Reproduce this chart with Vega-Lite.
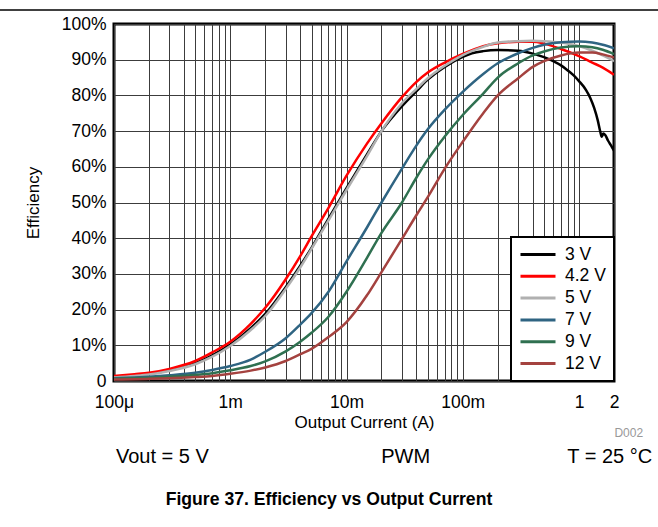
{
  "$schema": "https://vega.github.io/schema/vega-lite/v6.json",
  "width": 500,
  "height": 357,
  "autosize": "none",
  "padding": {"left": 114, "top": 24, "right": 44, "bottom": 146},
  "background": "white",
  "config": {
    "font": "Liberation Sans",
    "view": {"stroke": "black", "strokeWidth": 3},
    "axis": {
      "grid": true,
      "gridColor": "#3c3c3c",
      "gridWidth": 1,
      "gridOpacity": 1,
      "ticks": false,
      "domain": false,
      "labelFont": "Liberation Sans",
      "labelFontSize": 17.5,
      "labelColor": "black",
      "labelOverlap": false,
      "titleFont": "Liberation Sans",
      "titleFontSize": 17,
      "titleFontWeight": "normal",
      "titleColor": "black"
    },
    "legend": {
      "orient": "bottom-right",
      "offset": 0,
      "strokeColor": "black",
      "strokeWidth": 2,
      "fillColor": "white",
      "padding": 8,
      "clipHeight": 19,
      "symbolType": "stroke",
      "symbolSize": 1225,
      "symbolStrokeWidth": 3,
      "labelFont": "Liberation Sans",
      "labelFontSize": 17.5,
      "labelColor": "black",
      "labelOffset": 8,
      "rowPadding": 2.8
    }
  },
  "title": {
    "text": "Figure 37. Efficiency vs Output Current",
    "orient": "bottom",
    "anchor": "middle",
    "frame": "bounds",
    "font": "Liberation Sans",
    "fontSize": 17.6,
    "fontWeight": "bold",
    "color": "black",
    "offset": 24
  },
  "layer": [
    {
      "data": {
        "values": [
          {"s":"3 V","i":0.0001,"e":1.2},{"s":"3 V","i":0.00015,"e":1.6},{"s":"3 V","i":0.0002,"e":2.0},{"s":"3 V","i":0.0003,"e":3.0},{"s":"3 V","i":0.0005,"e":5.0},{"s":"3 V","i":0.0007,"e":7.2},{"s":"3 V","i":0.001,"e":10.2},{"s":"3 V","i":0.0015,"e":14.8},{"s":"3 V","i":0.002,"e":18.8},{"s":"3 V","i":0.003,"e":26.3},{"s":"3 V","i":0.004,"e":32.3},{"s":"3 V","i":0.005,"e":37.3},{"s":"3 V","i":0.007,"e":45.5},{"s":"3 V","i":0.01,"e":54},{"s":"3 V","i":0.015,"e":63.5},{"s":"3 V","i":0.02,"e":70},{"s":"3 V","i":0.03,"e":77},{"s":"3 V","i":0.04,"e":81.2},{"s":"3 V","i":0.05,"e":84.4},{"s":"3 V","i":0.07,"e":88},{"s":"3 V","i":0.1,"e":90.8},{"s":"3 V","i":0.12,"e":91.8},{"s":"3 V","i":0.15,"e":92.4},{"s":"3 V","i":0.2,"e":92.7},{"s":"3 V","i":0.3,"e":92.5},{"s":"3 V","i":0.4,"e":91.7},{"s":"3 V","i":0.5,"e":90.7},{"s":"3 V","i":0.6,"e":89.6},{"s":"3 V","i":0.7,"e":88.4},{"s":"3 V","i":0.8,"e":87},{"s":"3 V","i":0.9,"e":85.6},{"s":"3 V","i":1,"e":84},{"s":"3 V","i":1.15,"e":81.5},{"s":"3 V","i":1.25,"e":79.3},{"s":"3 V","i":1.35,"e":76.5},{"s":"3 V","i":1.45,"e":73},{"s":"3 V","i":1.52,"e":70},{"s":"3 V","i":1.57,"e":68.4},{"s":"3 V","i":1.62,"e":69.3},{"s":"3 V","i":1.68,"e":68.9},{"s":"3 V","i":1.78,"e":67.3},{"s":"3 V","i":1.9,"e":65.8},{"s":"3 V","i":2,"e":64.5},
          {"s":"4.2 V","i":0.0001,"e":1.4},{"s":"4.2 V","i":0.00015,"e":1.9},{"s":"4.2 V","i":0.0002,"e":2.3},{"s":"4.2 V","i":0.0003,"e":3.4},{"s":"4.2 V","i":0.0005,"e":5.6},{"s":"4.2 V","i":0.0007,"e":8.0},{"s":"4.2 V","i":0.001,"e":11.0},{"s":"4.2 V","i":0.0015,"e":16.0},{"s":"4.2 V","i":0.002,"e":20.5},{"s":"4.2 V","i":0.003,"e":28.5},{"s":"4.2 V","i":0.004,"e":35},{"s":"4.2 V","i":0.005,"e":40.5},{"s":"4.2 V","i":0.007,"e":48.5},{"s":"4.2 V","i":0.01,"e":57.5},{"s":"4.2 V","i":0.015,"e":66.5},{"s":"4.2 V","i":0.02,"e":72.2},{"s":"4.2 V","i":0.03,"e":79.5},{"s":"4.2 V","i":0.04,"e":83.8},{"s":"4.2 V","i":0.05,"e":86.4},{"s":"4.2 V","i":0.07,"e":89.2},{"s":"4.2 V","i":0.1,"e":91.6},{"s":"4.2 V","i":0.15,"e":93.8},{"s":"4.2 V","i":0.2,"e":94.6},{"s":"4.2 V","i":0.3,"e":95},{"s":"4.2 V","i":0.4,"e":95},{"s":"4.2 V","i":0.5,"e":94.5},{"s":"4.2 V","i":0.7,"e":93},{"s":"4.2 V","i":1,"e":91},{"s":"4.2 V","i":1.3,"e":89.2},{"s":"4.2 V","i":1.6,"e":87.8},{"s":"4.2 V","i":2,"e":85.8},
          {"s":"5 V","i":0.0001,"e":1.0},{"s":"5 V","i":0.00015,"e":1.4},{"s":"5 V","i":0.0002,"e":1.8},{"s":"5 V","i":0.0003,"e":2.8},{"s":"5 V","i":0.0005,"e":4.7},{"s":"5 V","i":0.0007,"e":6.8},{"s":"5 V","i":0.001,"e":9.8},{"s":"5 V","i":0.0015,"e":14.3},{"s":"5 V","i":0.002,"e":18.2},{"s":"5 V","i":0.003,"e":25.8},{"s":"5 V","i":0.004,"e":31.8},{"s":"5 V","i":0.005,"e":37},{"s":"5 V","i":0.007,"e":45},{"s":"5 V","i":0.01,"e":53.5},{"s":"5 V","i":0.015,"e":63},{"s":"5 V","i":0.02,"e":70},{"s":"5 V","i":0.03,"e":77.8},{"s":"5 V","i":0.04,"e":81.8},{"s":"5 V","i":0.05,"e":84.8},{"s":"5 V","i":0.07,"e":88.3},{"s":"5 V","i":0.1,"e":91.3},{"s":"5 V","i":0.15,"e":93.6},{"s":"5 V","i":0.2,"e":94.8},{"s":"5 V","i":0.3,"e":95.2},{"s":"5 V","i":0.4,"e":95.3},{"s":"5 V","i":0.5,"e":95.2},{"s":"5 V","i":0.7,"e":94.8},{"s":"5 V","i":1,"e":93.8},{"s":"5 V","i":1.3,"e":92.5},{"s":"5 V","i":1.6,"e":91.2},{"s":"5 V","i":2,"e":89.6},
          {"s":"7 V","i":0.0001,"e":0.8},{"s":"7 V","i":0.00015,"e":1.0},{"s":"7 V","i":0.0002,"e":1.2},{"s":"7 V","i":0.0003,"e":1.6},{"s":"7 V","i":0.0005,"e":2.3},{"s":"7 V","i":0.0007,"e":3.1},{"s":"7 V","i":0.001,"e":4.2},{"s":"7 V","i":0.0015,"e":6.0},{"s":"7 V","i":0.002,"e":8.2},{"s":"7 V","i":0.003,"e":12.0},{"s":"7 V","i":0.004,"e":15.8},{"s":"7 V","i":0.005,"e":19},{"s":"7 V","i":0.007,"e":25},{"s":"7 V","i":0.01,"e":33.5},{"s":"7 V","i":0.015,"e":43},{"s":"7 V","i":0.02,"e":50},{"s":"7 V","i":0.03,"e":59.5},{"s":"7 V","i":0.04,"e":66},{"s":"7 V","i":0.05,"e":70.5},{"s":"7 V","i":0.07,"e":76},{"s":"7 V","i":0.1,"e":81},{"s":"7 V","i":0.15,"e":86},{"s":"7 V","i":0.2,"e":89},{"s":"7 V","i":0.3,"e":91.8},{"s":"7 V","i":0.4,"e":93.3},{"s":"7 V","i":0.5,"e":94.2},{"s":"7 V","i":0.7,"e":94.9},{"s":"7 V","i":1,"e":95.1},{"s":"7 V","i":1.3,"e":94.8},{"s":"7 V","i":1.6,"e":94.2},{"s":"7 V","i":2,"e":93.2},
          {"s":"9 V","i":0.0001,"e":0.6},{"s":"9 V","i":0.00015,"e":0.8},{"s":"9 V","i":0.0002,"e":0.9},{"s":"9 V","i":0.0003,"e":1.2},{"s":"9 V","i":0.0005,"e":1.7},{"s":"9 V","i":0.0007,"e":2.2},{"s":"9 V","i":0.001,"e":3.0},{"s":"9 V","i":0.0015,"e":4.2},{"s":"9 V","i":0.002,"e":5.5},{"s":"9 V","i":0.003,"e":8.3},{"s":"9 V","i":0.004,"e":11.0},{"s":"9 V","i":0.005,"e":13.5},{"s":"9 V","i":0.007,"e":18},{"s":"9 V","i":0.01,"e":25},{"s":"9 V","i":0.015,"e":34.5},{"s":"9 V","i":0.02,"e":41.5},{"s":"9 V","i":0.03,"e":50},{"s":"9 V","i":0.04,"e":57},{"s":"9 V","i":0.05,"e":62},{"s":"9 V","i":0.07,"e":68.5},{"s":"9 V","i":0.1,"e":74.5},{"s":"9 V","i":0.15,"e":80.5},{"s":"9 V","i":0.2,"e":85},{"s":"9 V","i":0.3,"e":89},{"s":"9 V","i":0.4,"e":91.2},{"s":"9 V","i":0.5,"e":92.3},{"s":"9 V","i":0.7,"e":93.4},{"s":"9 V","i":1,"e":93.8},{"s":"9 V","i":1.3,"e":93.5},{"s":"9 V","i":1.6,"e":92.8},{"s":"9 V","i":2,"e":91.6},
          {"s":"12 V","i":0.0001,"e":0.4},{"s":"12 V","i":0.00015,"e":0.5},{"s":"12 V","i":0.0002,"e":0.6},{"s":"12 V","i":0.0003,"e":0.8},{"s":"12 V","i":0.0005,"e":1.1},{"s":"12 V","i":0.0007,"e":1.4},{"s":"12 V","i":0.001,"e":2.0},{"s":"12 V","i":0.0015,"e":2.9},{"s":"12 V","i":0.002,"e":3.8},{"s":"12 V","i":0.003,"e":5.6},{"s":"12 V","i":0.004,"e":7.5},{"s":"12 V","i":0.005,"e":9.0},{"s":"12 V","i":0.007,"e":12.3},{"s":"12 V","i":0.01,"e":16.5},{"s":"12 V","i":0.015,"e":24},{"s":"12 V","i":0.02,"e":30.5},{"s":"12 V","i":0.03,"e":39.8},{"s":"12 V","i":0.04,"e":46.5},{"s":"12 V","i":0.05,"e":51.5},{"s":"12 V","i":0.07,"e":59.5},{"s":"12 V","i":0.1,"e":67},{"s":"12 V","i":0.15,"e":75},{"s":"12 V","i":0.2,"e":80},{"s":"12 V","i":0.3,"e":84.8},{"s":"12 V","i":0.4,"e":88},{"s":"12 V","i":0.5,"e":89.6},{"s":"12 V","i":0.7,"e":91.2},{"s":"12 V","i":1,"e":92},{"s":"12 V","i":1.3,"e":92},{"s":"12 V","i":1.6,"e":91.5},{"s":"12 V","i":2,"e":90.6}
        ]
      },
      "transform": [{"calculate": "datum.e / 100", "as": "eff"}],
      "mark": {"type": "line", "strokeWidth": 2.5, "clip": true, "interpolate": "monotone"},
      "encoding": {
        "x": {
          "field": "i",
          "type": "quantitative",
          "scale": {"type": "log", "domain": [0.0001, 2], "nice": false},
          "axis": {
            "title": "Output Current (A)",
            "values": [0.0001,0.0002,0.0003,0.0004,0.0005,0.0006,0.0007,0.0008,0.0009,0.001,0.002,0.003,0.004,0.005,0.006,0.007,0.008,0.009,0.01,0.02,0.03,0.04,0.05,0.06,0.07,0.08,0.09,0.1,0.2,0.3,0.4,0.5,0.6,0.7,0.8,0.9,1,2],
            "tickCount": 60,
            "labelExpr": "datum.value === 0.0001 ? '100μ' : datum.value === 0.001 ? '1m' : datum.value === 0.01 ? '10m' : datum.value === 0.1 ? '100m' : datum.value === 1 ? '1' : datum.value === 2 ? '2' : ''",
            "labelFlush": false,
            "labelOverlap": false,
            "labelPadding": 12,
            "titlePadding": 4
          }
        },
        "y": {
          "field": "eff",
          "type": "quantitative",
          "scale": {"domain": [0, 1], "nice": false},
          "axis": {
            "title": "Efficiency",
            "values": [0,0.1,0.2,0.3,0.4,0.5,0.6,0.7,0.8,0.9,1],
            "tickCount": 20,
            "labelExpr": "datum.value === 0 ? '0' : format(datum.value, '.0%')",
            "labelOverlap": false,
            "labelPadding": 8,
            "titlePadding": 19
          }
        },
        "color": {
          "field": "s",
          "type": "nominal",
          "sort": ["3 V","4.2 V","5 V","7 V","9 V","12 V"],
          "scale": {"domain": ["3 V","4.2 V","5 V","7 V","9 V","12 V"], "range": ["#000000","#ff0000","#b0b0b0","#2f6482","#2f7050","#a4423f"]},
          "legend": {"title": null}
        }
      }
    },
    {
      "data": {"values": [{}]},
      "mark": {"type": "rule", "color": "black", "strokeWidth": 1.3},
      "encoding": {
        "x": {"datum": 0.00001, "type": "quantitative"},
        "x2": {"datum": 5},
        "y": {"datum": 1.0392, "type": "quantitative"}
      }
    },
    {
      "data": {"values": [{}]},
      "mark": {"type": "text", "align": "left", "baseline": "middle", "fontSize": 20, "font": "Liberation Sans", "color": "black"},
      "encoding": {
        "x": {"datum": 0.000104, "type": "quantitative"},
        "y": {"datum": -0.213, "type": "quantitative"},
        "text": {"value": "Vout = 5 V"}
      }
    },
    {
      "data": {"values": [{}]},
      "mark": {"type": "text", "align": "center", "baseline": "middle", "fontSize": 20, "font": "Liberation Sans", "color": "black"},
      "encoding": {
        "x": {"datum": 0.0323, "type": "quantitative"},
        "y": {"datum": -0.213, "type": "quantitative"},
        "text": {"value": "PWM"}
      }
    },
    {
      "data": {"values": [{}]},
      "mark": {"type": "text", "align": "right", "baseline": "middle", "fontSize": 20, "font": "Liberation Sans", "color": "black"},
      "encoding": {
        "x": {"datum": 4.26, "type": "quantitative"},
        "y": {"datum": -0.213, "type": "quantitative"},
        "text": {"value": "T = 25 °C"}
      }
    },
    {
      "data": {"values": [{}]},
      "mark": {"type": "text", "align": "right", "baseline": "middle", "fontSize": 12, "font": "Liberation Sans", "color": "#999999"},
      "encoding": {
        "x": {"datum": 3.56, "type": "quantitative"},
        "y": {"datum": -0.146, "type": "quantitative"},
        "text": {"value": "D002"}
      }
    }
  ]
}
